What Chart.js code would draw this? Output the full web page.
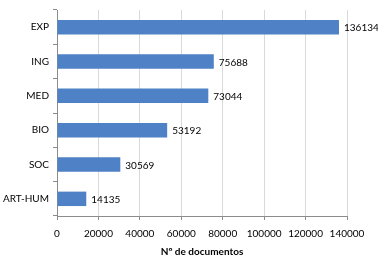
<!DOCTYPE html>
<html>
<head>
<meta charset="utf-8">
<script src="https://cdn.jsdelivr.net/npm/chart.js@4/dist/chart.umd.min.js"></script>
<style>
  html, body { margin: 0; padding: 0; background: #fff; }
  #wrap { width: 378px; height: 272px; }
</style>
</head>
<body>
<div id="wrap"><canvas id="docChart"></canvas></div>
<script>
const CATEGORIES = ['EXP', 'ING', 'MED', 'BIO', 'SOC', 'ART-HUM'];
const DOCUMENTOS = [136134, 75688, 73044, 53192, 30569, 14135];
const X_MAX = 140000;
const X_STEP = 20000;

const BAR_COLOR = '#4f81c6';
const FONT = 'Lato, "Open Sans", sans-serif';
const FONT_SIZE = 10;

// valores al final de cada barra
const valueLabels = {
    id: 'valueLabels',
    afterDatasetsDraw(chart) {
        const ctx = chart.ctx;
        const meta = chart.getDatasetMeta(0);
        ctx.save();
        ctx.font = FONT_SIZE + 'px ' + FONT;
        ctx.fillStyle = '#000';
        ctx.textBaseline = 'middle';
        ctx.textAlign = 'left';
        meta.data.forEach((bar, i) => {
            ctx.fillText(String(DOCUMENTOS[i]), bar.x + 5, bar.y + 1);
        });
        ctx.restore();
    }
};

new Chart(document.getElementById('docChart'), {
    type: 'bar',
    data: {
        labels: CATEGORIES,
        datasets: [{
            data: DOCUMENTOS,
            backgroundColor: BAR_COLOR,
            borderWidth: 0,
            categoryPercentage: 1,
            barPercentage: 0.42
        }]
    },
    options: {
        indexAxis: 'y',
        responsive: true,
        maintainAspectRatio: false,
        animation: false,
        layout: { padding: { top: 8, right: 31, left: 0, bottom: 10 } },
        plugins: {
            legend: { display: false },
            tooltip: { enabled: false }
        },
        scales: {
            x: {
                min: 0,
                max: X_MAX,
                afterFit: (scale) => { scale.height = 46; },
                ticks: {
                    stepSize: X_STEP,
                    maxRotation: 0,
                    autoSkip: false,
                    callback: (v) => String(v),
                    color: '#000',
                    font: { family: FONT, size: FONT_SIZE },
                    padding: 8
                },
                grid: {
                    color: '#d9d9d9',
                    tickColor: '#8c8c8c',
                    tickLength: 4
                },
                border: { color: '#8c8c8c' },
                title: {
                    display: true,
                    text: 'Nº de documentos',
                    color: '#000',
                    font: { family: FONT, size: FONT_SIZE, weight: 'bold' },
                    padding: { top: 4, bottom: 4 }
                }
            },
            y: {
                afterFit: (scale) => { scale.width = 57; },
                ticks: {
                    color: '#000',
                    font: { family: FONT, size: FONT_SIZE },
                    padding: 4
                },
                grid: {
                    offset: true,
                    drawOnChartArea: false,
                    tickColor: '#8c8c8c',
                    tickLength: 4
                },
                border: { color: '#8c8c8c' }
            }
        }
    },
    plugins: [valueLabels]
});
</script>
</body>
</html>
